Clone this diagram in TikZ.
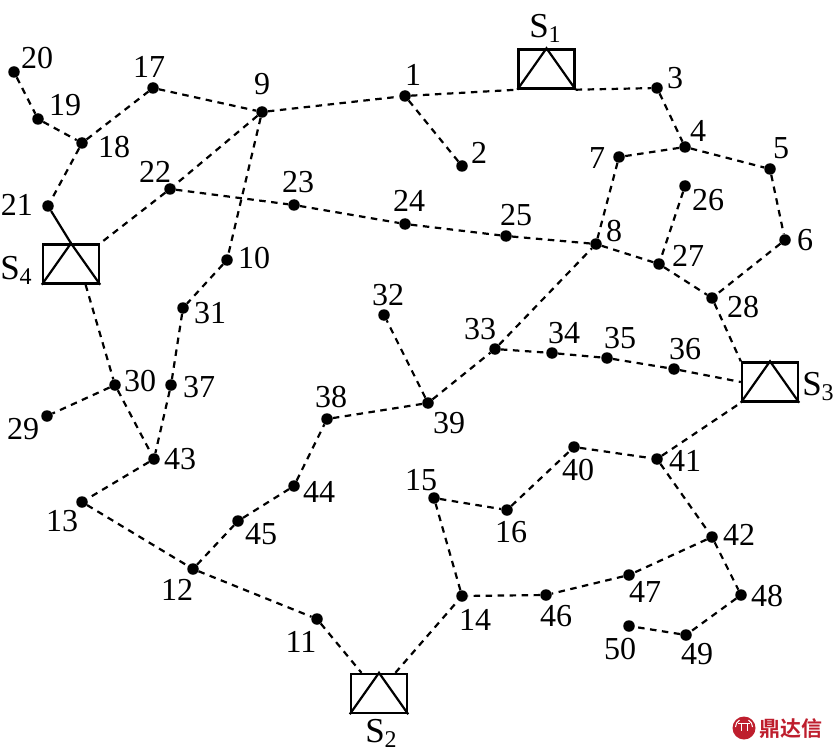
\documentclass[tikz,border=0pt]{standalone}
\usepackage{fontspec}
\usetikzlibrary{calc}
\setmainfont{Liberation Serif}
\newfontfamily\cjkwm{Noto Sans CJK SC}[BoldFont=* Bold]
\definecolor{wmred}{RGB}{190,30,45}
\newcommand{\substlabel}[1]{\fontsize{35}{35}\selectfont S\raisebox{-5pt}{\fontsize{24}{24}\selectfont #1}}
\tikzset{
  dotnode/.style={circle,fill=black,draw=none,inner sep=0pt,minimum size=11.5pt},
  conn/.style={line width=2.2pt,dash pattern=on 6.5pt off 5.5pt},
  solidconn/.style={line width=2.2pt},
  lab/.style={inner sep=0pt,font=\fontsize{32}{32}\selectfont},
  subst/.style={draw=black,line width=2.4pt,rectangle,inner sep=0pt,minimum width=56pt,minimum height=39pt},
  tri/.style={line width=2.2pt,line join=miter},
}
\begin{document}
\begin{tikzpicture}[x=1pt,y=-1pt]
\useasboundingbox (0,0) rectangle (834,751);
% substations
\node[subst] (s1) at (546.5,69) {};
\node[subst] (s2) at (379,693.5) {};
\node[subst] (s3) at (770,382) {};
\node[subst] (s4) at (71,264) {};
\foreach \s in {s1,s2,s3,s4}
  \draw[tri] (\s.south west) -- (\s.north) -- (\s.south east);
% bus nodes
\foreach \i/\x/\y in {1/405/96,2/462/166,3/657/88,4/685/147,5/770/169,6/785/240,7/619/157,8/596/244,
 9/262/112,10/227/260,11/317/619,12/193/569,13/82/502,14/462/596,15/434/498,16/507/510,17/153/88,
 18/82/143,19/38/119,20/14/72,21/48/206,22/170/189,23/294/205,24/405/224,25/506/236,26/685/186,
 27/659/264,28/712/298,29/47/416,30/115/385,31/183/308,32/384/315,33/495/349,34/552/353,35/607/358,
 36/674/369,37/171/385,38/327/419,39/428/403,40/574/447,41/657/459,42/712/537,43/154/459,44/294/486,
 45/238/521,46/546/595,47/629/575,48/741/595,49/686/635,50/629/626}
  \node[dotnode] (n\i) at (\x,\y) {};
% connection points on substation boxes
\coordinate (s1w) at (s1.south west);
\coordinate (s1e) at (s1.south east);
\coordinate (s2a) at ($(s2.north west)!0.2!(s2.north east)$);
\coordinate (s2b) at ($(s2.north west)!0.78!(s2.north east)$);
\coordinate (s3a) at (s3.north west);
\coordinate (s3b) at ($(s3.south west)!0.5!(s3.north west)$);
\coordinate (s3c) at (s3.south west);
\coordinate (s4a) at (s4.north east);
\coordinate (s4b) at ($(s4.south west)!0.75!(s4.south east)$);
% dashed feeders
\foreach \a/\b in {9/1,1/2,3/4,4/5,5/6,4/7,7/8,6/28,26/27,22/23,23/24,24/25,25/8,8/27,27/28,
 20/19,19/18,18/17,17/9,18/21,9/22,9/10,10/31,31/37,37/43,30/43,30/29,43/13,13/12,12/11,
 14/15,15/16,16/40,40/41,41/42,42/47,47/46,46/14,42/48,48/49,49/50,12/45,45/44,44/38,38/39,
 39/32,39/33,33/8,33/34,34/35,35/36}
  \draw[conn] (n\a) -- (n\b);
\draw[conn] (n1) -- (s1w);
\draw[conn] (s1e) -- (n3);
\draw[conn] (n28) -- (s3a);
\draw[conn] (n36) -- (s3b);
\draw[conn] (n41) -- (s3c);
\draw[conn] (n22) -- (s4a);
\draw[conn] (s4b) -- (n30);
\draw[conn] (n11) -- (s2a);
\draw[conn] (s2b) -- (n14);
\draw[solidconn] (n21) -- (s4.north);
% labels
\foreach \i/\x/\y in {1/413/75,2/479/153,3/675/78,4/698/131,5/781/148,6/805/240,7/597/158,8/614/231,
 9/262/84,10/254/258,11/301/642,12/177/590,13/62/521,14/475/620,15/421/480,16/511/532,17/149/67,
 18/114/147,19/65/105,20/37/58,21/17/205,22/155/172,23/298/182,24/409/201,25/516/215,26/708/200,
 27/688/256,28/743/307,29/23/429,30/140/381,31/210/313,32/388/295,33/480/329,34/564/333,35/620/338,
 36/685/349,37/199/387,38/331/397,39/449/423,40/578/470,41/685/461,42/739/535,43/180/459,44/319/492,
 45/261/534,46/556/616,47/645/592,48/767/596,49/697/654,50/620/649}
  \node[lab] (l\i) at (\x,\y) {\i};
\node[inner sep=0pt] (ls1) at (545,28) {\substlabel{1}};
\node[inner sep=0pt] (ls2) at (381,733) {\substlabel{2}};
\node[inner sep=0pt] (ls3) at (818,387) {\substlabel{3}};
\node[inner sep=0pt] (ls4) at (16,270) {\substlabel{4}};
% watermark
\fill[wmred] (744,728) circle (11.5);
\draw[white,line width=1pt] (738,723) -- (750,723) (741,723) -- (741,731) (747,723) -- (747,731);
\draw[white,line width=1pt] (735.5,727) arc[start angle=180,end angle=240,radius=8];
\draw[white,line width=1pt] (752.5,727) arc[start angle=0,end angle=-60,radius=8];
\node[inner sep=0pt,text=wmred,font=\cjkwm\bfseries\fontsize{21}{21}\selectfont] (wm) at (791,729) {鼎达信};
\end{tikzpicture}
\end{document}
